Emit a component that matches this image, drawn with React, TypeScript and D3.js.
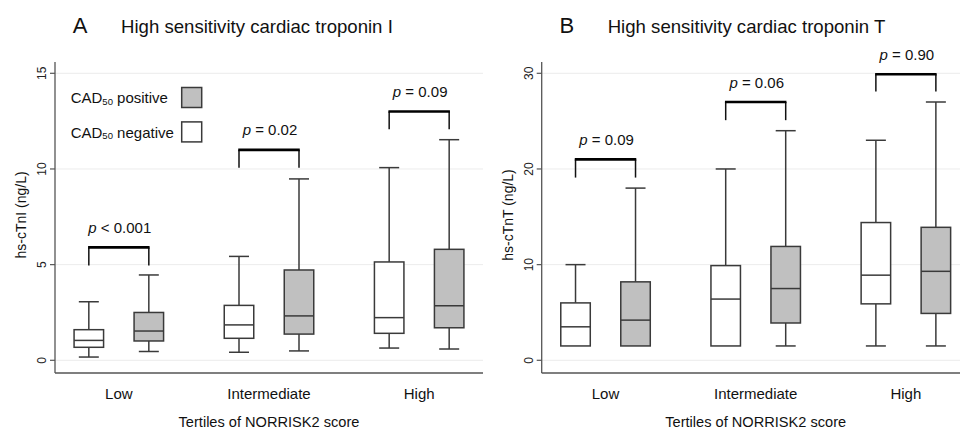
import React from 'react';
import * as d3 from 'd3';

// ---- Data ----
const categories = ['Low', 'Intermediate', 'High'];

// box stats: [lowerWhisker, q1, median, q3, upperWhisker]
const tnINegative = [
  [0.17, 0.68, 1.04, 1.6, 3.06],
  [0.42, 1.15, 1.85, 2.87, 5.43],
  [0.64, 1.41, 2.23, 5.14, 10.07],
];
const tnIPositive = [
  [0.46, 1.01, 1.53, 2.5, 4.46],
  [0.49, 1.37, 2.32, 4.72, 9.48],
  [0.59, 1.7, 2.85, 5.8, 11.53],
];
const tnTNegative = [
  [1.5, 1.5, 3.5, 6.0, 10],
  [1.5, 1.5, 6.4, 9.9, 20],
  [1.5, 5.9, 8.9, 14.4, 23],
];
const tnTPositive = [
  [1.5, 1.5, 4.2, 8.2, 18],
  [1.5, 3.9, 7.5, 11.9, 24],
  [1.5, 4.9, 9.3, 13.9, 27],
];

const tnIPLabels = ['< 0.001', '= 0.02', '= 0.09'];
const tnIBracketTop = [5.9, 11.0, 13.0];
const tnIBracketBottom = [4.95, 10.07, 12.07];
const tnTPLabels = ['= 0.09', '= 0.06', '= 0.90'];
const tnTBracketTop = [21, 27, 29.9];
const tnTBracketBottom = [19.1, 25.1, 28.1];

const tnITicks = [0, 5, 10, 15];
const tnTTicks = [0, 10, 20, 30];

const legendLabels = ['positive', 'negative'];

const FONT = "'Liberation Sans', Arial, Helvetica, sans-serif";
const GRAY = '#c0c0c0';
const STROKE = '#3a3a3a';

type PanelProps = {
  x0: number;
  letter: string;
  title: string;
  yLabel: string;
  yMax: number;
  ticks: number[];
  neg: number[][];
  pos: number[][];
  pLabels: string[];
  bTop: number[];
  bBottom: number[];
  legend?: boolean;
};

function Panel(p: PanelProps) {
  const axisTop = 62;
  const axisBottom = 373;
  const width = 428;
  const x = d3
    .scalePoint<string>()
    .domain(categories)
    .range([p.x0, p.x0 + width])
    .padding(0.425);
  const y = d3.scaleLinear().domain([0, p.yMax]).range([360.3, 73.3]);
  const off = 30;
  const boxW = 29.5;
  const capW = 20;

  const box = (s: number[], cx: number, fill: string, key: string) => {
    const [lo, q1, med, q3, hi] = s;
    return (
      <g key={key} stroke={STROKE} strokeWidth={1.5}>
        {hi > q3 && <line x1={cx} x2={cx} y1={y(q3)} y2={y(hi)} />}
        {hi > q3 && <line x1={cx - capW / 2} x2={cx + capW / 2} y1={y(hi)} y2={y(hi)} />}
        {lo < q1 && <line x1={cx} x2={cx} y1={y(q1)} y2={y(lo)} />}
        {lo < q1 && <line x1={cx - capW / 2} x2={cx + capW / 2} y1={y(lo)} y2={y(lo)} />}
        <rect x={cx - boxW / 2} y={y(q3)} width={boxW} height={y(q1) - y(q3)} fill={fill} />
        <line x1={cx - boxW / 2} x2={cx + boxW / 2} y1={y(med)} y2={y(med)} />
      </g>
    );
  };

  return (
    <g fontFamily={FONT}>
      {/* titles */}
      <text x={p.x0 + 17.7} y={33} fontSize={22} fill="#111">{p.letter}</text>
      <text x={p.x0 + 66} y={33} fontSize={18.6} fill="#111">{p.title}</text>
      {/* gridlines */}
      {p.ticks.map((t) => (
        <line key={'g' + t} x1={p.x0} x2={p.x0 + width} y1={y(t)} y2={y(t)} stroke="#ececec" strokeWidth={1} />
      ))}
      {/* axes */}
      <line x1={p.x0} x2={p.x0} y1={axisTop} y2={axisBottom} stroke="#555" strokeWidth={1.3} />
      <line x1={p.x0} x2={p.x0 + width} y1={axisBottom} y2={axisBottom} stroke="#555" strokeWidth={1.3} />
      {p.ticks.map((t) => (
        <g key={'t' + t}>
          <line x1={p.x0 - 5} x2={p.x0} y1={y(t)} y2={y(t)} stroke="#555" strokeWidth={1.2} />
          <text
            transform={`translate(${p.x0 - 13},${y(t)}) rotate(-90)`}
            textAnchor="middle"
            dominantBaseline="central"
            fontSize={12}
            fill="#222"
          >
            {t}
          </text>
        </g>
      ))}
      <text
        transform={`translate(${p.x0 - 34},215) rotate(-90)`}
        textAnchor="middle"
        dominantBaseline="central"
        fontSize={14}
        fill="#111"
      >
        {p.yLabel}
      </text>
      {/* x labels */}
      {categories.map((c) => (
        <text key={'x' + c} x={x(c)} y={399} textAnchor="middle" fontSize={15} fill="#111">
          {c}
        </text>
      ))}
      <text x={x(categories[1])} y={426.5} textAnchor="middle" fontSize={14.6} fill="#111">
        Tertiles of NORRISK2 score
      </text>
      {/* boxes */}
      {categories.map((c, i) => box(p.neg[i], (x(c) as number) - off, '#fff', 'n' + i))}
      {categories.map((c, i) => box(p.pos[i], (x(c) as number) + off, GRAY, 'p' + i))}
      {/* brackets */}
      {categories.map((c, i) => {
        const cx = x(c) as number;
        const l = cx - off;
        const r = cx + off;
        return (
          <g key={'b' + i}>
            <line x1={l} x2={l} y1={y(p.bTop[i])} y2={y(p.bBottom[i])} stroke="#111" strokeWidth={1.5} />
            <line x1={r} x2={r} y1={y(p.bTop[i])} y2={y(p.bBottom[i])} stroke="#111" strokeWidth={1.5} />
            <line x1={l - 0.75} x2={r + 0.75} y1={y(p.bTop[i])} y2={y(p.bTop[i])} stroke="#000" strokeWidth={2.6} />
            <text x={cx + 1} y={y(p.bTop[i]) - 14.5} textAnchor="middle" fontSize={15} fill="#111">
              <tspan fontStyle="italic">p</tspan>
              <tspan>{' ' + p.pLabels[i]}</tspan>
            </text>
          </g>
        );
      })}
      {/* legend */}
      {p.legend &&
        legendLabels.map((lab, i) => {
          const by = 103.3 + i * 34.4;
          return (
            <g key={'l' + i}>
              <text x={p.x0 + 15.7} y={by} fontSize={15} fill="#111">
                CAD
                <tspan fontSize={9.5} dy={1.5}>50</tspan>
                <tspan dy={-1.5}>{' ' + lab}</tspan>
              </text>
              <rect
                x={p.x0 + 126.7}
                y={by - 15.8}
                width={20}
                height={20}
                fill={i === 0 ? GRAY : '#fff'}
                stroke={STROKE}
                strokeWidth={1.5}
              />
            </g>
          );
        })}
    </g>
  );
}

export default function App() {
  return (
    <svg
      width={960}
      height={428}
      style={{ position: 'absolute', left: 0, top: 0, background: '#fff' }}
    >
      <rect width={960} height={428} fill="#fff" />
      <Panel
        x0={55}
        letter="A"
        title="High sensitivity cardiac troponin I"
        yLabel="hs-cTnI (ng/L)"
        yMax={15}
        ticks={tnITicks}
        neg={tnINegative}
        pos={tnIPositive}
        pLabels={tnIPLabels}
        bTop={tnIBracketTop}
        bBottom={tnIBracketBottom}
        legend
      />
      <Panel
        x0={541.7}
        letter="B"
        title="High sensitivity cardiac troponin T"
        yLabel="hs-cTnT (ng/L)"
        yMax={30}
        ticks={tnTTicks}
        neg={tnTNegative}
        pos={tnTPositive}
        pLabels={tnTPLabels}
        bTop={tnTBracketTop}
        bBottom={tnTBracketBottom}
      />
    </svg>
  );
}
